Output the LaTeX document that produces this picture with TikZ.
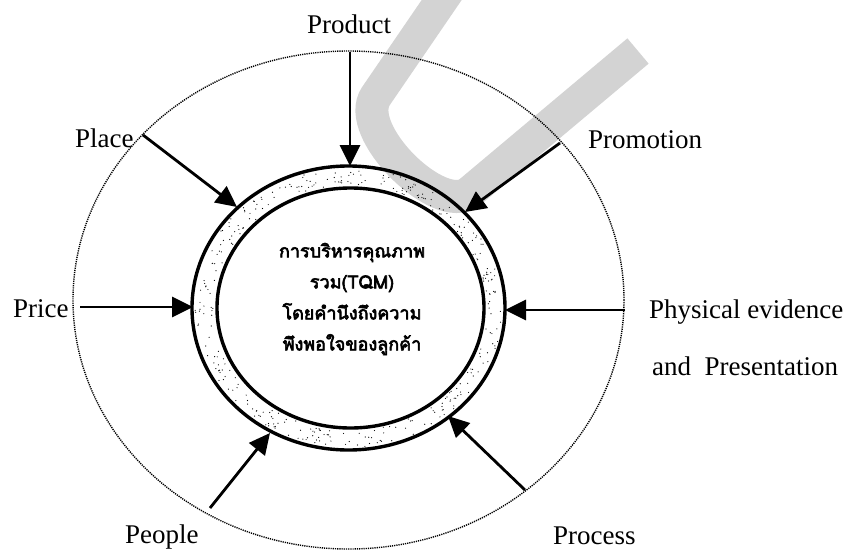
\documentclass[tikz,border=0pt]{standalone}
\usepackage{fontspec}
\setmainfont{Liberation Serif}
\newfontfamily\thaifont[Script=Thai,FakeBold=3.5]{Loma}
\usetikzlibrary{arrows.meta}
\definecolor{wm}{RGB}{211,211,211}
\begin{document}
\begin{tikzpicture}[x=1pt,y=-1pt,
  lbl/.style={font=\fontsize{27}{30}\selectfont, inner sep=0pt, anchor=base west},
  arr/.style={line width=2.8pt, -{Triangle[length=21pt,width=20pt]}},
  ringline/.style={line width=3.4pt},
  outerdot/.style={line width=1.4pt, dash pattern=on 1.2pt off 1pt},
  stip/.style={fill=black}]
\useasboundingbox (0,0) rectangle (852,552);
\fill[white] (0,0) rectangle (852,552);
% watermark stroke
\draw[wm, line width=33pt] (454,-18) -- (376,96) .. controls (352,131) and (440,217) .. (470,192) -- (638,51);
% outer dotted ellipse
\draw[outerdot] (348.5,300) ellipse [x radius=275.5pt, y radius=249pt];
% stipple in ring band
\pgfmathsetseed{12345}
\foreach \i in {1,...,340}{
  \pgfmathsetmacro\ang{360*rnd}
  \pgfmathsetmacro\fr{0.12+0.76*rnd}
  \fill[stip] ({350.5-2*\fr+(133.5+23*\fr)*cos(\ang)},{308+(120+22*\fr)*sin(\ang)}) circle[radius=0.6pt];
}
% ring
\draw[ringline] (348.5,308) ellipse [x radius=156.5pt, y radius=142pt];
\draw[ringline] (350.5,308) ellipse [x radius=133.5pt, y radius=120pt];
% centre text
\node[align=center, font=\thaifont\fontsize{18}{31}\selectfont, inner sep=0pt] (tqm) at (352,299)
  {การบริหารคุณภาพ\\รวม(TQM)\\โดยคำนึงถึงความ\\พึงพอใจของลูกค้า};
% labels
\node[lbl] (product) at (307,33) {Product};
\node[lbl] (place) at (75,147) {Place};
\node[lbl] (promotion) at (588,148) {Promotion};
\node[lbl] (price) at (13,317) {Price};
\node[lbl] (phys) at (649,318) {Physical evidence};
\node[lbl] (pres) at (652,375) {and\ \ Presentation};
\node[lbl] (people) at (125,543) {People};
\node[lbl] (process) at (553,544) {Process};
% arrow ends
\coordinate (prodS) at (350,52);   \coordinate (prodT) at (350,166);
\coordinate (placeS) at (143,135); \coordinate (placeT) at (237,207);
\coordinate (promS) at (560,143);  \coordinate (promT) at (465,212);
\coordinate (priceS) at (80,307);  \coordinate (priceT) at (193,307);
\coordinate (physS) at (625,310);  \coordinate (physT) at (505,310);
\coordinate (peopS) at (210,508);  \coordinate (peopT) at (270,433);
\coordinate (procS) at (525,490);  \coordinate (procT) at (448,416);
\draw[arr] (prodS) -- (prodT);
\draw[arr] (placeS) -- (placeT);
\draw[arr] (promS) -- (promT);
\draw[arr] (priceS) -- (priceT);
\draw[arr] (physS) -- (physT);
\draw[arr] (peopS) -- (peopT);
\draw[arr] (procS) -- (procT);
\end{tikzpicture}
\end{document}
